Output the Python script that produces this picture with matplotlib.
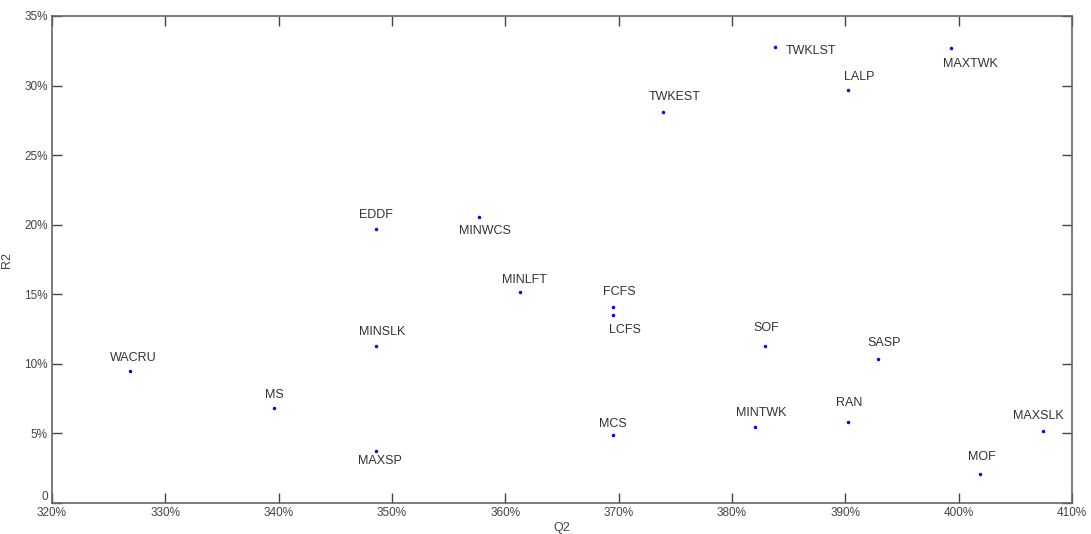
import numpy as np
import matplotlib
matplotlib.use("Agg")
import matplotlib.pyplot as plt

# rules and their (Q2 %, R2 %) values
names = ["WACRU", "MS", "MAXSP", "MINSLK", "EDDF", "MINWCS", "MINLFT", "FCFS", "LCFS",
         "MCS", "TWKEST", "TWKLST", "SOF", "MINTWK", "LALP", "RAN", "SASP", "MAXTWK",
         "MOF", "MAXSLK"]
q2 = [326.9, 339.6, 348.6, 348.6, 348.6, 357.7, 361.3, 369.5, 369.5,
      369.5, 373.9, 383.8, 382.9, 382.05, 390.2, 390.2, 392.9, 399.3,
      401.9, 407.4]
r2 = [9.49, 6.83, 3.74, 11.28, 19.69, 20.55, 15.16, 14.09, 13.51,
      4.89, 28.1, 32.77, 11.28, 5.46, 29.68, 5.82, 10.35, 32.7,
      2.08, 5.17]

x_ticks = list(range(320, 411, 10))
y_ticks = list(range(0, 36, 5))

# label offsets in pixels (dx, dy), label centred
offsets = {
    "WACRU": (3, 13), "MS": (0, 13), "MAXSP": (4, -10), "MINSLK": (6, 14),
    "EDDF": (0, 14), "MINWCS": (6, -14), "MINLFT": (4, 12), "FCFS": (6, 15),
    "LCFS": (12, -15), "MCS": (0, 11), "TWKEST": (12, 15), "SOF": (1, 18),
    "MINTWK": (6, 14), "LALP": (12, 13), "RAN": (2, 19), "SASP": (6, 16),
    "MAXTWK": (20, -16), "MOF": (2, 17), "MAXSLK": (-4, 15),
}

fig = plt.figure(figsize=(10.91, 5.34), dpi=100)
ax = fig.add_axes([52 / 1091, 31 / 534, 1020 / 1091, 487 / 534])

ax.plot(q2, r2, "o", color="#0000ff", markersize=2.5, markeredgewidth=0)

for n, x, y in zip(names, q2, r2):
    if n == "TWKLST":
        ax.annotate(n, (x, y), xytext=(11, -4), textcoords="offset pixels",
                    ha="left", va="center", fontsize=9, color="#333333",
                    family="Liberation Sans")
        continue
    dx, dy = offsets[n]
    ax.annotate(n, (x, y), xytext=(dx, dy), textcoords="offset pixels",
                ha="center", va="center", fontsize=9, color="#333333",
                family="Liberation Sans")

ax.set_xlim(320, 410)
ax.set_ylim(0, 35)
ax.set_xticks(x_ticks)
ax.set_xticklabels([f"{t}%" for t in x_ticks])
ax.set_yticks(y_ticks)
ax.set_yticklabels(["0"] + [f"{t}%" for t in y_ticks[1:]])
ax.tick_params(direction="in", length=7, width=1, colors="#444444", labelsize=8.5,
               top=True, right=True, pad=3)
for lab in ax.get_xticklabels() + ax.get_yticklabels():
    lab.set_family("Liberation Sans")
    lab.set_color("#444444")
ax.get_yticklabels()[0].set_va("bottom")
for s in ax.spines.values():
    s.set_color("#666666")
    s.set_linewidth(1.2)

ax.set_xlabel("Q2", fontsize=9, color="#444444", family="Liberation Sans", labelpad=2)
ax.set_ylabel("R2", fontsize=9, color="#444444", family="Liberation Sans", labelpad=8)

fig.savefig("out.png", dpi=100)
